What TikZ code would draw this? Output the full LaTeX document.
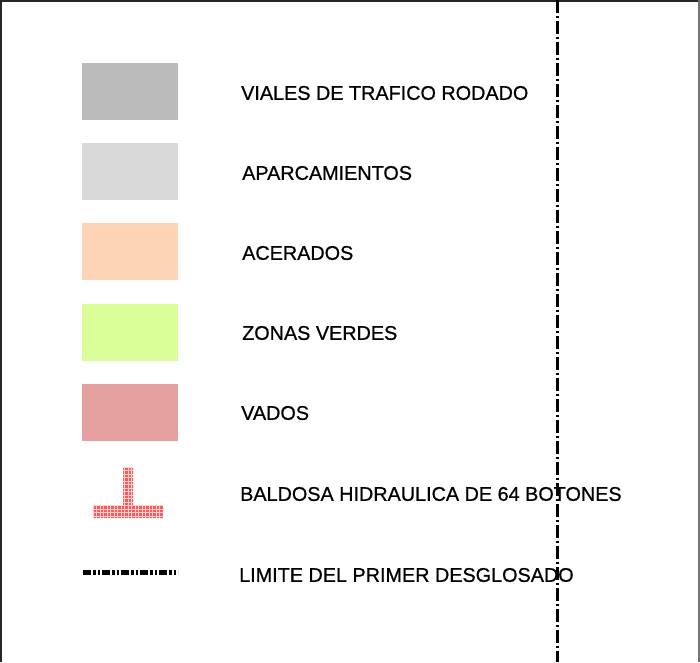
\documentclass[tikz,border=0pt]{standalone}
\usepackage{fontspec}
\setmainfont{Liberation Sans}[FakeBold=0.7]
\begin{document}
\begin{tikzpicture}[x=1pt,y=-1pt,
  swatch/.style={draw=none,minimum width=96pt,minimum height=57pt,inner sep=0pt,anchor=north west},
  lbl/.style={anchor=west,inner sep=0pt,font=\fontsize{19.8}{22}\selectfont},
  frame/.style={line width=1.6pt}]
\definecolor{cA}{HTML}{BBBBBB}
\definecolor{cB}{HTML}{D9D9D9}
\definecolor{cC}{HTML}{FFD3B6}
\definecolor{cD}{HTML}{DAFF98}
\definecolor{cE}{HTML}{E6A0A0}
\definecolor{gridred}{HTML}{FF5A5A}
\definecolor{gridpink}{HTML}{FFD0D0}
\useasboundingbox (0,0) rectangle (700,662);
\fill[white] (0,0) rectangle (700,662);
% frame
\draw[frame,color=black!85] (0.8,662) -- (0.8,0.8) -- (698,0.8);
\draw[line width=2pt,color=black!55] (698.5,0) -- (698.5,662);
% swatches
\node[swatch,fill=cA] (s1) at (82,63) {};
\node[swatch,fill=cB] (s2) at (82,143) {};
\node[swatch,fill=cC] (s3) at (82,223) {};
\node[swatch,fill=cD] (s4) at (82,304) {};
\node[swatch,fill=cE] (s5) at (82,384) {};
% labels
\node[lbl] (l1) at (241,93) {VIALES DE TRAFICO RODADO};
\node[lbl] (l2) at (242,173) {APARCAMIENTOS};
\node[lbl] (l3) at (242,253) {ACERADOS};
\node[lbl] (l4) at (242,333) {ZONAS VERDES};
\node[lbl] (l5) at (241,413) {VADOS};
\node[lbl] (l6) at (240,494) {BALDOSA HIDRAULICA DE 64 BOTONES};
\node[lbl] (l7) at (239,575) {LIMITE DEL PRIMER DESGLOSADO};
% tactile paving symbol
\begin{scope}
  \fill[gridpink] (123,467) rectangle (133,518);
  \fill[gridpink] (93,505) rectangle (163,518);
  \clip (123,467) rectangle (133,518) (93,505) rectangle (163,518);
  \foreach \i in {0,...,19} {
    \foreach \j in {0,...,14} {
      \fill[gridred] ({93.8+3.5*\i},{467.8+3.5*\j}) rectangle ++(2.3,2.3);
    }
  }
\end{scope}
% legend dash-dot line
\coordinate (ll1) at (83,572.5);
\coordinate (ll2) at (178,572.5);
\draw[line width=5pt,dash pattern=on 8pt off 2pt on 2.5pt off 2pt on 2.5pt off 2pt] (ll1) -- (ll2);
% boundary line
\coordinate (v1) at (557,0);
\coordinate (v2) at (557,662);
\draw[line width=3pt,dash pattern=on 13pt off 3pt on 2pt off 3pt] (v1) -- (v2);
\end{tikzpicture}
\end{document}
